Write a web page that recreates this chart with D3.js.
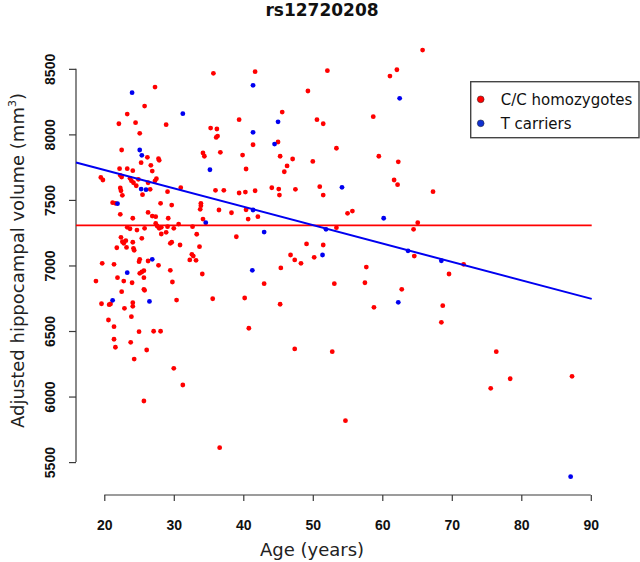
<!DOCTYPE html>
<html>
<head>
<meta charset="utf-8">
<script src="https://d3js.org/d3.v7.min.js"></script>
<style>
  html, body { margin: 0; padding: 0; background: #fff; }
  svg { display: block; }
</style>
</head>
<body>
<svg id="chart" width="640" height="562"></svg>
<script>
// ---------- DATA ----------
const title = "rs12720208";
const xLabel = "Age (years)";
const yLabelMain = "Adjusted hippocampal volume (mm";
const yLabelSup = "3";
const seriesNames = ["C/C homozygotes", "T carriers"];
const xTicks = [20, 30, 40, 50, 60, 70, 80, 90];
const yTicks = [5500, 6000, 6500, 7000, 7500, 8000, 8500];
const xLimits = [15.93, 90.13];
const yLimits = [5249, 8781];
const meanVolume = 7306;            // horizontal red line
const regIntercept = 8009.5;        // blue regression line
const regSlope = -14.03;

// C/C homozygotes: [age, volume]
const ccPoints = [
  [35.7,8466],[41.7,8478],[27.3,8361],[25.8,8216],[23.3,8155],[22.1,8081],[24.5,8089],[28.9,8074],[25.1,8008],[35.3,8048],
  [36.2,8041],[39.4,8112],[36.1,7977],[36.3,7987],[41.4,7921],[22.5,7881],[26.2,7825],[27.8,7814],[27.9,7802],[34.2,7858],
  [34.4,7833],[36.7,7863],[39.9,7842],[25.3,7784],[26.7,7764],[26.9,7720],[22.2,7738],[23.3,7738],[24.1,7723],[40.4,7736],
  [19.5,7672],[19.8,7652],[22.3,7688],[22.5,7675],[23.7,7665],[23.9,7646],[24.2,7631],[24.9,7657],[27.5,7662],[27.3,7646],
  [26.3,7631],[22.3,7591],[22.4,7570],[24.6,7608],[26.6,7581],[29.1,7563],[31.0,7593],[36.0,7573],[37.2,7573],[39.4,7553],
  [40.3,7560],[41.7,7570],[44.1,7593],[45.1,7583],[25.5,7540],[22.6,7535],[21.2,7479],[21.6,7474],[28.1,7474],[29.7,7461],
  [33.9,7474],[33.9,7456],[33.8,7428],[36.5,7423],[38.3,7402],[40.4,7425],[42.1,7372],[22.3,7390],[26.3,7405],[26.9,7377],
  [27.4,7372],[24.1,7360],[29.2,7360],[34.2,7354],
  [40.7,7354],[23.3,7291],[23.7,7280],[24.7,7270],[25.8,7283],[27.4,7321],[27.6,7301],[27.9,7283],[28.2,7291],[29.1,7296],
  [30.0,7283],[30.7,7316],[32.7,7296],[22.4,7215],[22.6,7181],[22.8,7169],[23.1,7189],[24.1,7177],[25.4,7207],[28.2,7240],
  [28.9,7253],[33.3,7238],[39.0,7219],[21.8,7135],[23.2,7138],[24.2,7131],[24.3,7116],[29.5,7169],[29.7,7177],[30.9,7156],
  [33.7,7143],[32.6,7085],[32.8,7072],[32.3,7042],[33.2,7039],[25.1,7047],[25.0,7029],[26.3,7034],[19.7,7016],[21.4,7009],
  [27.8,7001],[25.7,6960],[25.4,6950],[25.1,6940],[29.5,6963],[34.1,6935],[21.9,6907],[25.7,6907],[18.8,6881],[22.8,6881],
  [24.0,6868],[29.8,6874],[25.7,6818],[25.8,6810],[22.5,6800],[19.6,6708],[20.7,6701],[20.9,6706],[24.1,6716],[24.1,6688],
  [30.4,6736],[35.6,6746],[40.2,6752],[22.9,6673],[23.9,6609],[20.6,6584],[21.4,6533],[40.8,6521],[25.0,6495],[27.1,6498],
  [28.1,6498],[21.4,6437],[23.8,6414],[21.6,6376],[26.1,6355],[24.3,6286],
  [30.0,6215],[31.3,6088],[25.7,5966],[36.6,5610],
  [65.8,8643],[52.1,8486],[62.1,8493],[61.1,8445],[49.3,8331],[45.6,8170],[50.6,8112],[51.5,8081],[58.7,8135],[45.0,7942],
  [53.4,7894],[45.3,7833],[47.1,7812],[50.0,7794],[59.5,7833],[62.3,7791],[46.3,7759],[45.9,7715],[61.7,7652],[62.2,7616],
  [45.2,7537],[47.5,7581],[51.0,7601],[51.5,7537],[67.3,7563],[55.0,7398],[55.7,7415],[53.4,7288],[65.1,7326],[64.5,7276],
  [49.1,7164],[51.5,7156],[46.8,7080],[47.4,7042],[48.3,7016],[50.2,7062],[45.4,6981],[57.7,6988],[64.6,7072],[43.0,6861],
  [53.1,6861],[57.5,6868],[62.8,6818],[45.3,6704],[58.8,6681],[47.4,6363],[52.8,6342],[54.7,5816],
  [71.7,7009],[69.6,6935],[68.7,6693],[68.5,6566],[76.4,6342],[78.4,6136],[75.6,6063],[87.3,6154]
];

// T carriers: [age, volume]
const tPoints = [
  [24.0,8318],[31.3,8158],[41.4,8374],[41.4,8016],[44.5,7926],[45.0,8096],[25.1,7881],[25.4,7840],[35.2,7730],[25.3,7583],
  [26.0,7578],[21.9,7471],[41.4,7423],
  [34.6,7326],[26.9,7047],[23.3,6945],[41.3,6963],[21.2,6734],[26.5,6726],
  [62.5,8275],[54.2,7596],[60.2,7360],[51.9,7276],
  [43.0,7255],[51.4,7080],[63.7,7112],[62.3,6719],
  [68.5,7036],[87.1,5389]
];

// ---------- CHART ----------
const svg = d3.select("#chart");
const plot = { left: 76, right: 591.7, top: 32, bottom: 495 };
const red = "#ff0000", blue = "#0000f0", axisCol = "#3a3a3a";

const x = d3.scaleLinear().domain(xLimits).range([plot.left, plot.right]);
const y = d3.scaleLinear().domain(yLimits).range([plot.bottom, plot.top]);

svg.append("rect").attr("width", 640).attr("height", 562).attr("fill", "#fff");

// Title
svg.append("text")
  .attr("x", 322).attr("y", 16)
  .attr("text-anchor", "middle")
  .attr("font-family", "DejaVu Sans, sans-serif")
  .attr("font-weight", "bold")
  .attr("font-size", 17)
  .attr("fill", "#111")
  .text(title);

// X axis
const gx = svg.append("g").attr("transform", `translate(0,${plot.bottom})`)
  .call(d3.axisBottom(x).tickValues(xTicks).tickSize(6).tickFormat(d3.format("d")));
gx.select(".domain").attr("d", `M${x(xTicks[0])},0H${x(xTicks[xTicks.length - 1])}`)
  .attr("stroke", axisCol).attr("stroke-width", 1.2);
gx.selectAll(".tick line").attr("stroke", axisCol).attr("stroke-width", 1.2);
gx.selectAll(".tick text")
  .attr("y", 0).attr("dy", 0).attr("transform", "translate(0,35)")
  .attr("font-family", "Liberation Sans, Arial, sans-serif")
  .attr("font-weight", "bold").attr("font-size", 14).attr("fill", "#111");

// Y axis
const gy = svg.append("g").attr("transform", `translate(${plot.left},0)`)
  .call(d3.axisLeft(y).tickValues(yTicks).tickSize(7).tickFormat(d3.format("d")));
gy.select(".domain").attr("d", `M0,${y(yTicks[0])}V${y(yTicks[yTicks.length - 1])}`)
  .attr("stroke", axisCol).attr("stroke-width", 1.2);
gy.selectAll(".tick line").attr("stroke", axisCol).attr("stroke-width", 1.2);
gy.selectAll(".tick text")
  .attr("x", 0).attr("y", -21).attr("dy", 0)
  .attr("text-anchor", "middle")
  .attr("transform", "rotate(-90)")
  .attr("font-family", "Liberation Sans, Arial, sans-serif")
  .attr("font-weight", "bold").attr("font-size", 14).attr("fill", "#111");

// Axis titles
svg.append("text")
  .attr("x", 312).attr("y", 556)
  .attr("text-anchor", "middle")
  .attr("font-family", "DejaVu Sans, sans-serif")
  .attr("font-size", 18).attr("fill", "#222")
  .text(xLabel);

const yl = svg.append("text")
  .attr("transform", `translate(24,${(plot.top + plot.bottom) / 2 - 3}) rotate(-90)`)
  .attr("text-anchor", "middle")
  .attr("font-family", "DejaVu Sans, sans-serif")
  .attr("font-size", 18).attr("fill", "#222");
yl.append("tspan").text(yLabelMain);
yl.append("tspan").attr("font-size", 11).attr("dy", -8).text(yLabelSup);
yl.append("tspan").attr("dy", 8).text(")");

// Points
const pts = svg.append("g");
pts.selectAll("circle.cc").data(ccPoints).join("circle")
  .attr("class", "cc")
  .attr("cx", d => x(d[0])).attr("cy", d => y(d[1]))
  .attr("r", 2.4).attr("fill", red);
pts.selectAll("circle.t").data(tPoints).join("circle")
  .attr("class", "t")
  .attr("cx", d => x(d[0])).attr("cy", d => y(d[1]))
  .attr("r", 2.4).attr("fill", blue);

// Mean line (red)
svg.append("line")
  .attr("x1", x(xLimits[0])).attr("x2", x(xLimits[1]))
  .attr("y1", y(meanVolume)).attr("y2", y(meanVolume))
  .attr("stroke", red).attr("stroke-width", 1.6);

// Regression line (blue)
svg.append("line")
  .attr("x1", x(xLimits[0])).attr("x2", x(xLimits[1]))
  .attr("y1", y(regIntercept + regSlope * xLimits[0]))
  .attr("y2", y(regIntercept + regSlope * xLimits[1]))
  .attr("stroke", blue).attr("stroke-width", 2);

// Legend
const lg = svg.append("g");
lg.append("rect")
  .attr("x", 470.7).attr("y", 81.7).attr("width", 168.3).attr("height", 56)
  .attr("fill", "#fff").attr("stroke", "#444").attr("stroke-width", 1.4);
const legendColors = [red, "#1030d0"];
seriesNames.forEach((name, i) => {
  const cy = 99.3 + i * 24;
  lg.append("circle").attr("cx", 480.7).attr("cy", cy).attr("r", 3.4)
    .attr("fill", legendColors[i]).attr("stroke", "#222").attr("stroke-width", 0.5);
  lg.append("text").attr("x", 500.7).attr("y", cy + 5.7)
    .attr("font-family", "DejaVu Sans, sans-serif")
    .attr("font-size", 15).attr("fill", "#111")
    .text(name);
});
</script>
</body>
</html>
